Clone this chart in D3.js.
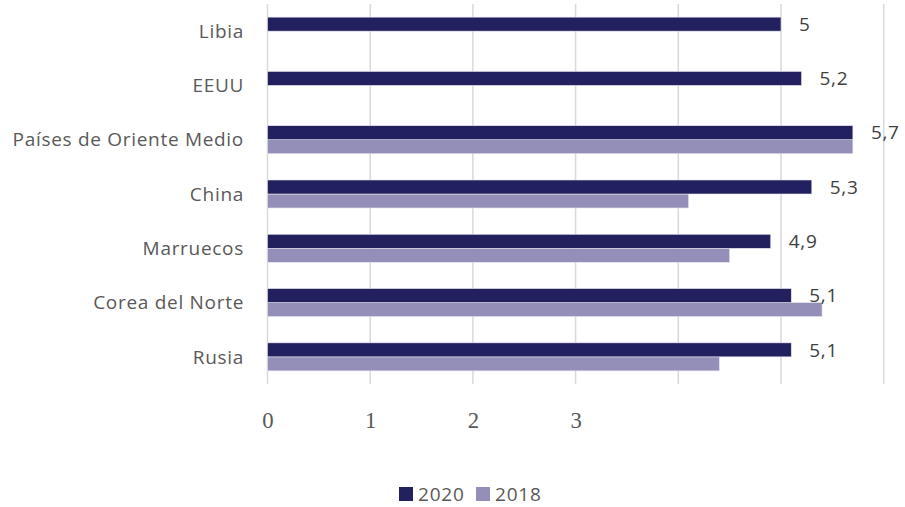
<!DOCTYPE html>
<html>
<head>
<meta charset="utf-8">
<script src="https://cdn.jsdelivr.net/npm/d3@7"></script>
<style>
  body { margin: 0; background: #fff; }
  .cat { font-family: "Open Sans", sans-serif; font-size: 19px; letter-spacing: 0.7px; fill: #595959; }
  .val { font-family: "Open Sans", sans-serif; font-size: 19px; letter-spacing: 0.7px; fill: #404040; }
  .tick text { font-family: "Liberation Serif", serif; font-size: 24px; fill: #595959; }
  .leg { font-family: "Open Sans", sans-serif; font-size: 19px; letter-spacing: 0.8px; fill: #595959; }
</style>
</head>
<body>
<svg width="905" height="507"></svg>
<script>
var categories = ["Libia", "EEUU", "Países de Oriente Medio", "China", "Marruecos", "Corea del Norte", "Rusia"];
var values2020 = [5, 5.2, 5.7, 5.3, 4.9, 5.1, 5.1];
var values2018 = [null, null, 5.7, 4.1, 4.5, 5.4, 4.4];
var labels2020 = ["5", "5,2", "5,7", "5,3", "4,9", "5,1", "5,1"];
var series = ["2020", "2018"];
var tickLabels = [0, 1, 2, 3];
var colors = { "2020": "#23205f", "2018": "#948fb8" };

var svg = d3.select("svg");

var xScale = d3.scaleLinear().domain([0, 6]).range([267.5, 883.7]);
var yScale = d3.scaleBand().domain(categories).range([4, 384])
    .paddingInner(0.484).paddingOuter(0.242);
var sub = d3.scaleBand().domain(series).range([0, yScale.bandwidth()]);

// gridlines
svg.append("g").selectAll("line")
    .data(d3.range(0, 7))
    .enter()
    .append("line")
    .attr("x1", (d) => xScale(d))
    .attr("x2", (d) => xScale(d))
    .attr("y1", 4)
    .attr("y2", 384)
    .attr("stroke", "#d9d9d9")
    .attr("stroke-width", 1.5);

// x axis labels (only 0..3 shown in the original)
var xAxis = svg.append("g")
    .attr("transform", "translate(0,384)")
    .call(d3.axisBottom(xScale).tickValues(tickLabels).tickFormat(d3.format("d"))
        .tickSize(0).tickPadding(27));
xAxis.select(".domain").remove();
xAxis.selectAll(".tick text").attr("transform", "scale(0.95,1)");

var data = categories.map(function(c, i) {
    return { cat: c, v2020: values2020[i], v2018: values2018[i], label: labels2020[i] };
});

var groups = svg.append("g").selectAll("g")
    .data(data)
    .enter()
    .append("g")
    .attr("transform", (d) => "translate(0," + yScale(d.cat) + ")");

groups.filter((d) => d.v2018 != null)
    .append("rect")
    .attr("x", xScale(0))
    .attr("y", sub("2018"))
    .attr("width", (d) => xScale(d.v2018) - xScale(0))
    .attr("height", sub.bandwidth())
    .attr("fill", colors["2018"])
    .attr("stroke", "#e6e6f0")
    .attr("stroke-width", 0.6);

groups.append("rect")
    .attr("x", xScale(0))
    .attr("y", sub("2020"))
    .attr("width", (d) => xScale(d.v2020) - xScale(0))
    .attr("height", sub.bandwidth())
    .attr("fill", colors["2020"])
    .attr("stroke", "#e6e6f0")
    .attr("stroke-width", 0.6);

groups.append("text")
    .attr("class", "val")
    .attr("x", (d) => xScale(d.v2020) + 18)
    .attr("y", sub("2020") + sub.bandwidth() / 2)
    .attr("dy", "0.35em")
    .text((d) => d.label);

// category labels
svg.append("g").selectAll("text")
    .data(categories)
    .enter()
    .append("text")
    .attr("class", "cat")
    .attr("x", 244)
    .attr("y", (d) => yScale(d) + yScale.bandwidth() / 2)
    .attr("dy", "0.35em")
    .attr("text-anchor", "end")
    .text((d) => d);

// legend
var legend = svg.append("g").attr("transform", "translate(399,487)");
var legX = [0, 77];
series.forEach(function(s, i) {
    legend.append("rect")
        .attr("x", legX[i])
        .attr("y", 0)
        .attr("width", 14)
        .attr("height", 14)
        .attr("fill", colors[s]);
    legend.append("text")
        .attr("class", "leg")
        .attr("x", legX[i] + 19)
        .attr("y", 7)
        .attr("dy", "0.35em")
        .text(s);
});
</script>
</body>
</html>
